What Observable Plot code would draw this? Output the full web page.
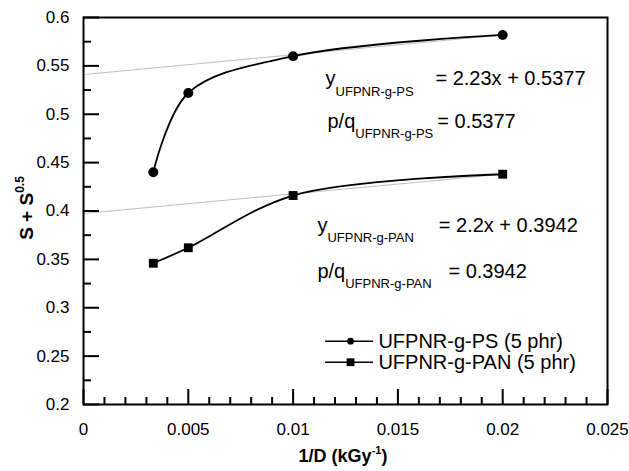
<!DOCTYPE html>
<html><head><meta charset="utf-8">
<script src="https://cdn.jsdelivr.net/npm/d3@7"></script>
<script src="https://cdn.jsdelivr.net/npm/@observablehq/plot@0.6"></script>
<style>
body{margin:0;background:#fff}
#chart svg{font-family:"Liberation Sans",Arial,sans-serif;background:#fff}
</style>
</head><body><div id="chart"></div>
<script>
// ---- data ----
const doseInv = [0.00333, 0.005, 0.01, 0.02];          // 1/D (kGy^-1)
const psValues = [0.44, 0.522, 0.56, 0.582];           // UFPNR-g-PS (5 phr)
const panValues = [0.346, 0.362, 0.416, 0.438];        // UFPNR-g-PAN (5 phr)
const seriesNames = ["UFPNR-g-PS (5 phr)", "UFPNR-g-PAN (5 phr)"];
const seriesSymbols = ["circle", "square"];
const trendX = [0, 0.02];
const trendPS = [0.541, 0.582];
const trendPAN = [0.3974, 0.438];
const xTicks = [0, 0.005, 0.01, 0.015, 0.02, 0.025];
const xTickLabels = ["0", "0.005", "0.01", "0.015", "0.02", "0.025"];
const yTicks = [0.2, 0.25, 0.3, 0.35, 0.4, 0.45, 0.5, 0.55, 0.6];
const yTickLabels = ["0.2", "0.25", "0.3", "0.35", "0.4", "0.45", "0.5", "0.55", "0.6"];
const xMinorTicks = [0.001, 0.002, 0.003, 0.004, 0.006, 0.007, 0.008, 0.009, 0.011, 0.012, 0.013, 0.014,
                     0.016, 0.017, 0.018, 0.019, 0.021, 0.022, 0.023, 0.024];
const yMinorTicks = [0.225, 0.275, 0.325, 0.375, 0.425, 0.475, 0.525, 0.575];
const annotations = [
  {x: 0.01155, y: 0.5366, base: "y",   sub: "UFPNR-g-PS",  restX: 0.01679, rest: "= 2.23x + 0.5377"},
  {x: 0.01164, y: 0.4927, base: "p/q", sub: "UFPNR-g-PS",  restX: 0.01688, rest: "= 0.5377"},
  {x: 0.01116, y: 0.3852, base: "y",   sub: "UFPNR-g-PAN", restX: 0.01695, rest: "= 2.2x + 0.3942"},
  {x: 0.01116, y: 0.3377, base: "p/q", sub: "UFPNR-g-PAN", restX: 0.01741, rest: "= 0.3942"}
];
const legendX = [0.01155, 0.01274, 0.01384, 0.01407]; // line start, marker, line end, text
const legendY = [0.2655, 0.2437];

// ---- build tables ----
const ps = doseInv.map((x, i) => ({x, y: psValues[i]}));
const pan = doseInv.map((x, i) => ({x, y: panValues[i]}));
const trPS = trendX.map((x, i) => ({x, y: trendPS[i]}));
const trPAN = trendX.map((x, i) => ({x, y: trendPAN[i]}));
const legend = seriesNames.map((name, i) => ({name, symbol: seriesSymbols[i], y: legendY[i]}));

const W = 629, H = 471, mL = 83, mT = 17, mR = 22, mB = 67;
const fw = W - mL - mR, fh = H - mT - mB;

const plot = Plot.plot({
  width: W, height: H,
  marginLeft: mL, marginTop: mT, marginRight: mR, marginBottom: mB,
  style: {fontSize: "17px", fontFamily: "Liberation Sans, Arial, sans-serif", color: "#000", background: "#fff"},
  x: {domain: [0, 0.025], axis: null},
  y: {domain: [0.2, 0.6], axis: null},
  marks: [
    Plot.line(trPS, {x: "x", y: "y", stroke: "#b8b8b8", strokeWidth: 0.9}),
    Plot.line(trPAN, {x: "x", y: "y", stroke: "#b8b8b8", strokeWidth: 0.9}),
    Plot.line(ps, {x: "x", y: "y", curve: "catmull-rom", stroke: "#000", strokeWidth: 1.8}),
    Plot.line(pan, {x: "x", y: "y", curve: "catmull-rom", stroke: "#000", strokeWidth: 1.8}),
    Plot.dot(ps, {x: "x", y: "y", symbol: "circle", r: 5, fill: "#000", stroke: "none"}),
    Plot.dot(pan, {x: "x", y: "y", symbol: "square", r: 5, fill: "#000", stroke: "none"}),
    Plot.ruleX(xTicks, {x: d => d, insetTop: fh - 15, stroke: "#000", strokeWidth: 2}),
    Plot.ruleX(xMinorTicks, {x: d => d, insetTop: fh - 7, stroke: "#000", strokeWidth: 2}),
    Plot.ruleY(yTicks, {y: d => d, insetRight: fw - 16, stroke: "#000", strokeWidth: 2}),
    Plot.ruleY(yMinorTicks, {y: d => d, insetRight: fw - 8, stroke: "#000", strokeWidth: 2}),
    Plot.frame({stroke: "#000", strokeWidth: 2}),
    Plot.axisX(xTicks, {tickSize: 0, tickPadding: 18, tickFormat: (d, i) => xTickLabels[i], fontSize: 17, label: null}),
    Plot.axisY(yTicks, {tickSize: 0, tickPadding: 14, tickFormat: (d, i) => yTickLabels[i], fontSize: 17, label: null}),
    Plot.text(annotations, {x: "x", y: "y", text: d => d.base + "|" + d.sub, textAnchor: "start", fontSize: 20, fill: "#000"}),
    Plot.text(annotations, {x: "restX", y: "y", text: "rest", textAnchor: "start", fontSize: 20, fill: "#000"}),
    Plot.ruleY(legend, {y: "y", x1: legendX[0], x2: legendX[2], stroke: "#000", strokeWidth: 1.5}),
    Plot.dot(legend.filter(d => d.symbol === "circle"), {x: () => legendX[1], y: "y", symbol: "circle", r: 3.4, fill: "#000", stroke: "none"}),
    Plot.dot(legend.filter(d => d.symbol === "square"), {x: () => legendX[1], y: "y", symbol: "square", r: 4.4, fill: "#000", stroke: "none"}),
    Plot.text(legend, {x: () => legendX[3], y: "y", text: "name", textAnchor: "start", fontSize: 20, fill: "#000"})
  ]
});

// subscripts in the annotations
d3.select(plot).selectAll("text").each(function() {
  const s = this.textContent;
  if (s.indexOf("|") < 0 || this.children.length) return;
  const [base, sub] = s.split("|");
  const t = d3.select(this);
  t.text(null);
  t.append("tspan").text(base);
  t.append("tspan").attr("font-size", 13).attr("dy", 10.5).text(sub);
});

// axis titles
const svg = d3.select(plot);
const xt = svg.append("text")
  .attr("x", 343).attr("y", 462)
  .attr("text-anchor", "middle").attr("font-weight", "bold").attr("font-size", 18).attr("fill", "#000");
xt.append("tspan").text("1/D (kGy");
xt.append("tspan").attr("font-size", 11).attr("dy", -8).text("-1");
xt.append("tspan").attr("dy", 8).text(")");

const yt = svg.append("text")
  .attr("transform", "translate(33,208) rotate(-90)")
  .attr("text-anchor", "middle").attr("font-weight", "bold").attr("font-size", 19).attr("fill", "#000");
yt.append("tspan").text("S + S");
yt.append("tspan").attr("font-size", 12).attr("dy", -9).text("0.5");

document.getElementById("chart").appendChild(plot);
</script>
</body></html>
